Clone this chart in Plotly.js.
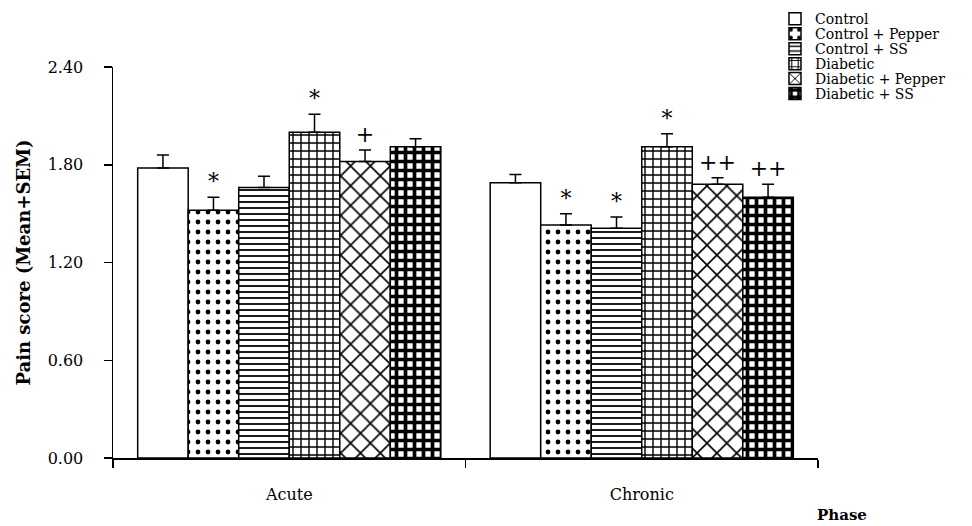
<!DOCTYPE html>
<html>
<head>
<meta charset="utf-8">
<script src="https://cdn.plot.ly/plotly-3.0.1.min.js"></script>
<style>html,body{margin:0;padding:0;background:#fff;}#chart{width:972px;height:526px;}</style>
</head>
<body>
<div id="chart"></div>
<script>
const phases = ["Acute", "Chronic"];
const groups = ["Control", "Control + Pepper", "Control + SS", "Diabetic", "Diabetic + Pepper", "Diabetic + SS"];
const control = [1.78, 1.69];
const controlPepper = [1.52, 1.43];
const controlSS = [1.66, 1.41];
const diabetic = [2.00, 1.91];
const diabeticPepper = [1.82, 1.68];
const diabeticSS = [1.91, 1.60];
const semControl = [0.08, 0.05];
const semControlPepper = [0.08, 0.07];
const semControlSS = [0.07, 0.07];
const semDiabetic = [0.11, 0.08];
const semDiabeticPepper = [0.07, 0.04];
const semDiabeticSS = [0.05, 0.08];
const sigControl = ["", ""];
const sigControlPepper = ["*", "*"];
const sigControlSS = ["", "*"];
const sigDiabetic = ["*", "*"];
const sigDiabeticPepper = ["+", "++"];
const sigDiabeticSS = ["", "++"];
const yTickVals = [0, 0.6, 1.2, 1.8, 2.4];
const yTickText = ["0.00", "0.60", "1.20", "1.80", "2.40"];

const means = [control, controlPepper, controlSS, diabetic, diabeticPepper, diabeticSS];
const sems = [semControl, semControlPepper, semControlSS, semDiabetic, semDiabeticPepper, semDiabeticSS];
const sigs = [sigControl, sigControlPepper, sigControlSS, sigDiabetic, sigDiabeticPepper, sigDiabeticSS];

const patterns = [
  {shape: ""},
  {shape: ".", size: 10, solidity: 0.18, fgcolor: "#000", bgcolor: "#fff"},
  {shape: "-", size: 6, solidity: 0.3, fgcolor: "#000", bgcolor: "#fff"},
  {shape: "+", size: 8, solidity: 0.32, fgcolor: "#000", bgcolor: "#fff"},
  {shape: "x", size: 14, solidity: 0.22, fgcolor: "#000", bgcolor: "#fff"},
  {shape: "+", size: 9, solidity: 0.65, fgcolor: "#000", bgcolor: "#fff"}
];

const FONT = "DejaVu Serif, Liberation Serif, serif";
const traces = [];
groups.forEach((g, i) => {
  traces.push({
    type: "bar", name: g, x: phases, y: means[i], offsetgroup: "g" + i,
    marker: {color: "#fff", line: {color: "#000", width: 1.5}, pattern: patterns[i]},
    error_y: {type: "data", array: sems[i], arrayminus: sems[i].map(() => 0), symmetric: false,
              color: "#000", thickness: 1.5, width: 6},
    legend: i === 0 ? "legend" : "legend" + (i + 1),
    hoverinfo: "skip"
  });
});
groups.forEach((g, i) => {
  traces.push({
    type: "bar", name: g + " sig", x: phases, y: means[i].map((m, k) => m + sems[i][k]),
    offsetgroup: "g" + i, showlegend: false,
    marker: {color: "rgba(0,0,0,0)", line: {width: 0}},
    text: sigs[i], textposition: "outside", cliponaxis: false,
    textfont: {family: FONT, size: 22, color: "#000"},
    hoverinfo: "skip"
  });
});

const layout = {
  width: 972, height: 526,
  margin: {l: 113, r: 154, t: 67, b: 68, autoexpand: false},
  paper_bgcolor: "#fff", plot_bgcolor: "#fff",
  barmode: "group", bargap: 0.14, bargroupgap: 0,
  font: {family: FONT, color: "#000", size: 16},
  showlegend: true,
  xaxis: {
    type: "category", range: [-0.5, 1.5], showline: true, linecolor: "#000", linewidth: 1.5,
    ticks: "outside", tickson: "boundaries", ticklen: 8, tickcolor: "#000", tickwidth: 1.5,
    showgrid: false, zeroline: false, ticklabelstandoff: 21,
    tickfont: {family: FONT, size: 16, color: "#000"}
  },
  yaxis: {
    range: [0, 2.4], showline: true, linecolor: "#000", linewidth: 1.5,
    ticks: "outside", ticklen: 8, tickcolor: "#000", tickwidth: 1.5,
    tickvals: yTickVals, ticktext: yTickText, showgrid: false, zeroline: false,
    ticklabelstandoff: 17, tickfont: {family: FONT, size: 16, color: "#000"},
    title: {text: "<b>Pain score (Mean+SEM)</b>", font: {family: FONT, size: 18, color: "#000"}, standoff: 12}
  },
  annotations: [
    {text: "<b>Phase</b>", xref: "paper", yref: "paper", x: 1.034, y: -0.147, xanchor: "center", yanchor: "middle",
     showarrow: false, font: {family: FONT, size: 15, color: "#000"}}
  ]
};
groups.forEach((g, i) => {
  const key = i === 0 ? "legend" : "legend" + (i + 1);
  layout[key] = {
    x: 0.939, y: 1.1225 - i * 0.0383, xanchor: "left", yanchor: "middle",
    bgcolor: "rgba(0,0,0,0)", borderwidth: 0, itemwidth: 30,
    font: {family: FONT, size: 14, color: "#000"}
  };
});

Plotly.newPlot("chart", traces, layout, {displayModeBar: false, staticPlot: true});
</script>
</body>
</html>
